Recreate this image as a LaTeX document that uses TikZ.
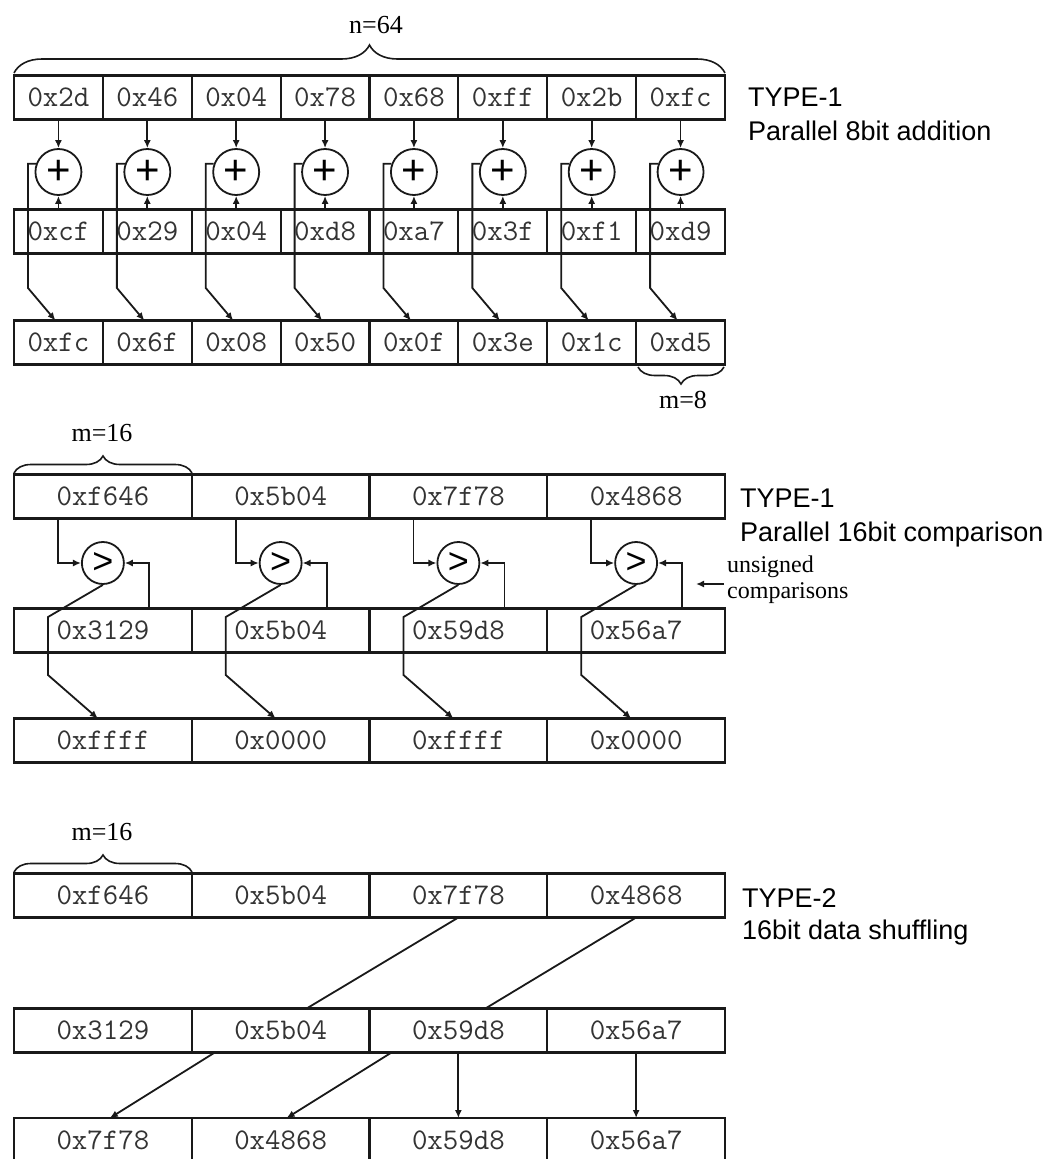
\documentclass[tikz,border=0pt]{standalone}
\usepackage{fontspec}
\newfontfamily\sansf{Liberation Sans}
\newfontfamily\seriff{Liberation Serif}
\usetikzlibrary{arrows.meta,decorations.pathreplacing,calc}
\begin{document}
\begin{tikzpicture}[x=1pt,y=-1pt,
  box/.style={draw=black!90, line width=2.2pt, rectangle, inner sep=0pt, outer sep=0pt,
    minimum height=44pt, font=\fontsize{30}{30}\ttfamily, text=black!80},
  box8/.style={box, minimum width=88.875pt},
  box16/.style={box, minimum width=177.75pt},
  conn/.style={line width=1.8pt, draw=black!90},
  arr/.style={conn, -{Latex[length=8pt,width=7pt]}},
  adder/.style={circle, draw=black!90, line width=1.8pt, minimum size=46pt, inner sep=0pt,
    font=\sansf\fontsize{42}{42}\selectfont},
  cmp/.style={circle, draw=black!90, line width=1.8pt, minimum size=42pt, inner sep=0pt,
    font=\sansf\fontsize{36}{36}\selectfont},
  lbl/.style={font=\seriff\fontsize{26}{26}\selectfont, inner sep=0pt},
  title/.style={font=\sansf\fontsize{27}{34}\selectfont, anchor=base west, inner sep=0pt},
  brc/.style={line width=1.6pt, draw=black!90, decorate, decoration={brace, amplitude=#1}},
]
\fill[white] (0,0) rectangle (1052,1159);
\useasboundingbox (0,0) rectangle (1052,1159);

% ---------- Section 1: parallel 8bit addition ----------
\foreach \t [count=\i] in {0x2d,0x46,0x04,0x78,0x68,0xff,0x2b,0xfc}
  \node[box8] (a\i) at ({14+(\i-0.5)*88.875},97.5) {\t};
\foreach \t [count=\i] in {0xcf,0x29,0x04,0xd8,0xa7,0x3f,0xf1,0xd9}
  \node[box8] (b\i) at ({14+(\i-0.5)*88.875},231.5) {\t};
\foreach \t [count=\i] in {0xfc,0x6f,0x08,0x50,0x0f,0x3e,0x1c,0xd5}
  \node[box8] (c\i) at ({14+(\i-0.5)*88.875},342.5) {\t};
\foreach \i in {1,...,8}{
  \node[adder] (p\i) at ({14+(\i-0.5)*88.875},172) {+};
  \coordinate (v\i) at ({14+(\i-1)*88.875+14},288);
  \draw[arr] (a\i.south) -- (p\i.north);
  \draw[arr] (b\i.north) -- (p\i.south);
  \draw[arr] (p\i.160) -- (p\i.160 -| v\i) -- (v\i) -- ([xshift=-3pt]c\i.north);
}
\draw[brc=28pt] (14,73) -- (725,73);
\node[lbl] (n64) at (376,25) {n=64};
\draw[brc=17pt] (724,367) -- (638,367);
\node[lbl] (m8) at (683,400) {m=8};
\node[title] (t1a) at (748,106) {TYPE-1};
\node[title] (t1b) at (748,140) {Parallel 8bit addition};

% ---------- Section 2: parallel 16bit comparison ----------
\foreach \t [count=\i] in {0xf646,0x5b04,0x7f78,0x4868}
  \node[box16] (s2a\i) at ({14+(\i-0.5)*177.75},496.5) {\t};
\foreach \t [count=\i] in {0x3129,0x5b04,0x59d8,0x56a7}
  \node[box16] (s2b\i) at ({14+(\i-0.5)*177.75},630.5) {\t};
\foreach \t [count=\i] in {0xffff,0x0000,0xffff,0x0000}
  \node[box16] (s2c\i) at ({14+(\i-0.5)*177.75},740.5) {\t};
\foreach \i in {1,...,4}{
  \node[cmp] (q\i) at ({14+(\i-0.5)*177.75},563) {>};
  \coordinate (u\i) at ({14+(\i-1)*177.75+34},617);
  \coordinate (d\i) at ({14+(\i-1)*177.75+34},675);
  \draw[arr] ([xshift=44pt]s2a\i.south west) |- (q\i.west);
  \draw[arr] ([xshift=135pt]s2b\i.north west) |- (q\i.east);
  \draw[arr] (q\i.south) -- (u\i) -- (d\i) -- ([xshift=-5pt]s2c\i.north);
}
\draw[brc=17pt] (14,473) -- (192,473);
\node[lbl] (m16a) at (102,433) {m=16};
\node[title] (t2a) at (740,507) {TYPE-1};
\node[title] (t2b) at (740,541) {Parallel 16bit comparison};
\node[lbl, font=\seriff\fontsize{24}{26}\selectfont, align=left, anchor=west, inner sep=3pt] (uc) at (724,580) {unsigned\\comparisons};
\coordinate (ucend) at (696,584);
\draw[arr] (uc.west |- ucend) -- (ucend);

% ---------- Section 3: 16bit data shuffling ----------
\foreach \t [count=\i] in {0xf646,0x5b04,0x7f78,0x4868}
  \node[box16] (s3a\i) at ({14+(\i-0.5)*177.75},895.5) {\t};
\foreach \t [count=\i] in {0x3129,0x5b04,0x59d8,0x56a7}
  \node[box16] (s3b\i) at ({14+(\i-0.5)*177.75},1030.5) {\t};
\foreach \t [count=\i] in {0x7f78,0x4868,0x59d8,0x56a7}
  \node[box16] (s3c\i) at ({14+(\i-0.5)*177.75},1140) {\t};
\draw[conn] (s3a3.south) -- ([xshift=26pt]s3b2.north);
\draw[conn] (s3a4.south) -- ([xshift=27pt]s3b3.north);
\draw[arr] ([xshift=23pt]s3b2.south west) -- ([xshift=7pt]s3c1.north);
\draw[arr] ([xshift=22pt]s3b3.south west) -- ([xshift=6pt]s3c2.north);
\draw[arr] (s3b3.south) -- (s3c3.north);
\draw[arr] (s3b4.south) -- (s3c4.north);
\draw[brc=17pt] (14,872) -- (192,872);
\node[lbl] (m16b) at (102,832) {m=16};
\node[title] (t3a) at (742,907) {TYPE-2};
\node[title] (t3b) at (742,939) {16bit data shuffling};
\end{tikzpicture}
\end{document}
